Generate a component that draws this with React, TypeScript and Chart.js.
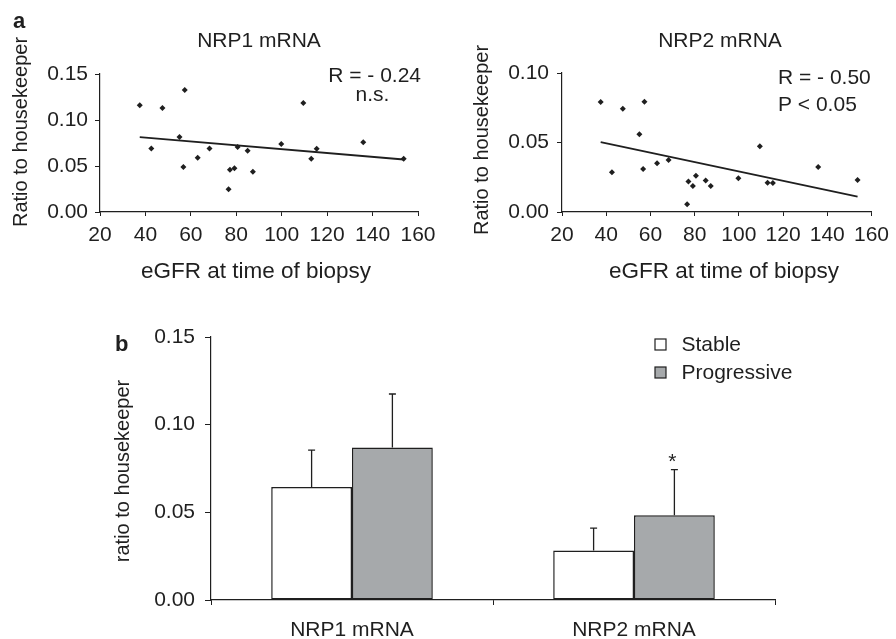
import React, { useEffect, useRef } from 'react';
import { Chart, registerables } from 'chart.js';

Chart.register(...registerables);

const FONT = '"Liberation Sans", Arial, Helvetica, sans-serif';
const INK = '#1f1f1f';
const GREY = '#a6a9ab';

// ---- Panel a data (eGFR vs ratio to housekeeper) ----
const egfr = [37.5, 42.6, 47.5, 55, 57.3, 56.7, 63, 68.2, 76.6, 77.2, 79.2, 80.6, 85, 87.3, 99.8, 109.5, 113, 115.4, 135.9, 153.7];
const nrp1Ratio = [0.116, 0.069, 0.113, 0.0815, 0.1326, 0.049, 0.059, 0.069, 0.0246, 0.046, 0.0475, 0.0707, 0.0667, 0.0438, 0.0739, 0.1185, 0.058, 0.0688, 0.0757, 0.058];
const nrp2Ratio = [0.0791, 0.0286, 0.0743, 0.056, 0.0793, 0.031, 0.0351, 0.0375, 0.0055, 0.0219, 0.0187, 0.026, 0.0226, 0.0187, 0.0243, 0.0473, 0.0211, 0.0209, 0.0324, 0.0231];
const egfrAxis = { min: 20, max: 160, step: 20 };
const nrp1Axis = { min: 0, max: 0.15, step: 0.05 };
const nrp2Axis = { min: 0, max: 0.1, step: 0.05 };

// ---- Panel b data ----
const barCategories = ['NRP1 mRNA', 'NRP2 mRNA'];
const seriesNames = ['Stable', 'Progressive'];
const stableMean = [0.0644, 0.0282];
const stableSD = [0.0211, 0.0128];
const progressiveMean = [0.087, 0.0484];
const progressiveSD = [0.0305, 0.026];
const progressiveSig = ['', '*'];
const barAxis = { min: 0, max: 0.15, step: 0.05 };

type Label = {
  text: string;
  x: number;
  y: number;
  align?: CanvasTextAlign;
  baseline?: CanvasTextBaseline;
  size?: number;
  bold?: boolean;
  rotate?: boolean;
};

function textPlugin(labels: Label[]) {
  return {
    id: 'panelText',
    afterDraw(chart: any) {
      const ctx = chart.ctx as CanvasRenderingContext2D;
      labels.forEach((l) => {
        ctx.save();
        ctx.fillStyle = INK;
        ctx.font = `${l.bold ? 'bold ' : ''}${l.size ?? 21}px ${FONT}`;
        ctx.textAlign = l.align ?? 'left';
        ctx.textBaseline = l.baseline ?? 'alphabetic';
        ctx.translate(l.x, l.y);
        if (l.rotate) ctx.rotate(-Math.PI / 2);
        ctx.fillText(l.text, 0, 0);
        ctx.restore();
      });
    },
  };
}

function leastSquares(xs: number[], ys: number[]) {
  const n = xs.length;
  const mx = xs.reduce((a, b) => a + b, 0) / n;
  const my = ys.reduce((a, b) => a + b, 0) / n;
  let sxy = 0;
  let sxx = 0;
  for (let i = 0; i < n; i++) {
    sxy += (xs[i] - mx) * (ys[i] - my);
    sxx += (xs[i] - mx) * (xs[i] - mx);
  }
  const slope = sxy / sxx;
  const icpt = my - slope * mx;
  const x0 = Math.min(...xs);
  const x1 = Math.max(...xs);
  return [
    { x: x0, y: icpt + slope * x0 },
    { x: x1, y: icpt + slope * x1 },
  ];
}

const tickFont = { family: FONT, size: 21 };

function scatterConfig(
  ys: number[],
  yAxis: { min: number; max: number; step: number },
  yWidth: number,
  pad: { left: number; right: number; top: number; bottom: number },
  xHeight: number,
  yTickPad: number,
  labels: Label[]
): any {
  return {
    type: 'scatter',
    data: {
      datasets: [
        {
          type: 'scatter',
          data: egfr.map((x, i) => ({ x, y: ys[i] })),
          pointStyle: 'rectRot',
          pointRadius: 3,
          backgroundColor: INK,
          borderColor: INK,
          borderWidth: 0,
        },
        {
          type: 'line',
          data: leastSquares(egfr, ys),
          borderColor: INK,
          borderWidth: 1.8,
          pointRadius: 0,
          showLine: true,
          fill: false,
        },
      ],
    },
    options: {
      responsive: false,
      animation: false,
      events: [],
      layout: { padding: pad },
      plugins: { legend: { display: false }, tooltip: { enabled: false } },
      scales: {
        x: {
          type: 'linear',
          min: egfrAxis.min,
          max: egfrAxis.max,
          ticks: { stepSize: egfrAxis.step, padding: 7, color: INK, font: tickFont, maxRotation: 0 },
          grid: { drawOnChartArea: false, drawTicks: true, tickLength: 4, color: INK, lineWidth: 1 },
          border: { color: INK, width: 1.2 },
          afterFit: (s: any) => {
            s.height = xHeight;
          },
        },
        y: {
          type: 'linear',
          min: yAxis.min,
          max: yAxis.max,
          ticks: {
            stepSize: yAxis.step,
            padding: yTickPad,
            color: INK,
            font: tickFont,
            callback: (v: any) => Number(v).toFixed(2),
          },
          grid: { drawOnChartArea: false, drawTicks: true, tickLength: 5, color: INK, lineWidth: 1 },
          border: { color: INK, width: 1.2 },
          afterFit: (s: any) => {
            s.width = yWidth;
          },
        },
      },
    },
    plugins: [textPlugin(labels)],
  };
}

const errorBarPlugin = {
  id: 'errorBars',
  afterDatasetsDraw(chart: any) {
    const ctx = chart.ctx as CanvasRenderingContext2D;
    const yScale = chart.scales.y;
    const sds = [stableSD, progressiveSD];
    const sigs = [[] as string[], progressiveSig];
    chart.data.datasets.forEach((ds: any, di: number) => {
      const meta = chart.getDatasetMeta(di);
      meta.data.forEach((el: any, j: number) => {
        const mean = ds.data[j];
        const top = yScale.getPixelForValue(mean + sds[di][j]);
        const base = yScale.getPixelForValue(mean);
        ctx.save();
        ctx.strokeStyle = INK;
        ctx.lineWidth = 1.3;
        ctx.beginPath();
        ctx.moveTo(el.x, base);
        ctx.lineTo(el.x, top);
        ctx.moveTo(el.x - 3.5, top);
        ctx.lineTo(el.x + 3.5, top);
        ctx.stroke();
        const sig = sigs[di][j];
        if (sig) {
          ctx.fillStyle = INK;
          ctx.font = `21px ${FONT}`;
          ctx.textAlign = 'center';
          ctx.textBaseline = 'alphabetic';
          ctx.fillText(sig, el.x - 2, top - 2);
        }
        ctx.restore();
      });
    });
  },
};

const barLegendPlugin = {
  id: 'barLegend',
  afterDraw(chart: any) {
    const ctx = chart.ctx as CanvasRenderingContext2D;
    chart.data.datasets.forEach((ds: any, i: number) => {
      const cy = 44.5 + i * 28;
      ctx.save();
      ctx.fillStyle = ds.backgroundColor;
      ctx.fillRect(655, cy - 5.5, 11, 11);
      ctx.strokeStyle = INK;
      ctx.lineWidth = 1.2;
      ctx.strokeRect(655, cy - 5.5, 11, 11);
      ctx.fillStyle = INK;
      ctx.font = `21px ${FONT}`;
      ctx.textAlign = 'left';
      ctx.textBaseline = 'middle';
      ctx.fillText(ds.label, 681.5, cy + 0.5);
      ctx.restore();
    });
  },
};

function barConfig(): any {
  return {
    type: 'bar',
    data: {
      labels: barCategories,
      datasets: [
        {
          label: seriesNames[0],
          data: stableMean,
          backgroundColor: '#ffffff',
          borderColor: INK,
          borderWidth: 1.5,
          borderSkipped: false,
          categoryPercentage: 0.573,
          barPercentage: 1,
        },
        {
          label: seriesNames[1],
          data: progressiveMean,
          backgroundColor: GREY,
          borderColor: INK,
          borderWidth: 1.5,
          borderSkipped: false,
          categoryPercentage: 0.573,
          barPercentage: 1,
        },
      ],
    },
    options: {
      responsive: false,
      animation: false,
      events: [],
      layout: { padding: { left: 0, right: 121, top: 37, bottom: 0 } },
      plugins: { legend: { display: false }, tooltip: { enabled: false } },
      scales: {
        x: {
          type: 'category',
          ticks: { padding: 13, color: INK, font: tickFont, maxRotation: 0 },
          grid: { offset: true, drawOnChartArea: false, drawTicks: true, tickLength: 5, color: INK, lineWidth: 1 },
          border: { color: INK, width: 1.2 },
          afterFit: (s: any) => {
            s.height = 39;
          },
        },
        y: {
          type: 'linear',
          min: barAxis.min,
          max: barAxis.max,
          ticks: {
            stepSize: barAxis.step,
            padding: 10,
            color: INK,
            font: tickFont,
            callback: (v: any) => Number(v).toFixed(2),
          },
          grid: { drawOnChartArea: false, drawTicks: true, tickLength: 6, color: INK, lineWidth: 1 },
          border: { color: INK, width: 1.2 },
          afterFit: (s: any) => {
            s.width = 211;
          },
        },
      },
    },
    plugins: [
      errorBarPlugin,
      barLegendPlugin,
      textPlugin([
        { text: 'b', x: 115, y: 51, bold: true, size: 22 },
        { text: 'ratio to housekeeper', x: 123, y: 171, align: 'center', baseline: 'middle', rotate: true, size: 20 },
      ]),
    ],
  };
}

function ChartCanvas({ make, left, top, width, height }: { make: () => any; left: number; top: number; width: number; height: number }) {
  const ref = useRef<HTMLCanvasElement | null>(null);
  useEffect(() => {
    if (!ref.current) return;
    const chart = new Chart(ref.current, make());
    return () => chart.destroy();
  }, []);
  return (
    <canvas
      ref={ref}
      width={width}
      height={height}
      style={{ position: 'absolute', left, top, width, height }}
    />
  );
}

export default function App() {
  return (
    <div style={{ position: 'absolute', left: 0, top: 0, width: 896, height: 639, background: '#fff', overflow: 'hidden' }}>
      <ChartCanvas
        left={0}
        top={0}
        width={448}
        height={300}
        make={() =>
          scatterConfig(nrp1Ratio, nrp1Axis, 100, { left: 0, right: 30, top: 74, bottom: 0 }, 88, 7, [
            { text: 'a', x: 13, y: 28, bold: true, size: 22 },
            { text: 'NRP1 mRNA', x: 259, y: 47, align: 'center' },
            { text: 'R = - 0.24', x: 421, y: 81.5, align: 'right' },
            { text: 'n.s.', x: 372.5, y: 101, align: 'center' },
            { text: 'Ratio to housekeeper', x: 21, y: 132, align: 'center', baseline: 'middle', rotate: true, size: 20 },
            { text: 'eGFR at time of biopsy', x: 256, y: 278, align: 'center', size: 22.5 },
          ])
        }
      />
      <ChartCanvas
        left={448}
        top={0}
        width={448}
        height={300}
        make={() =>
          scatterConfig(nrp2Ratio, nrp2Axis, 114, { left: 0, right: 18, top: 73, bottom: 0 }, 88, 8, [
            { text: 'NRP2 mRNA', x: 272, y: 47, align: 'center' },
            { text: 'R = - 0.50', x: 330, y: 83.5, align: 'left' },
            { text: 'P < 0.05', x: 330, y: 111, align: 'left' },
            { text: 'Ratio to housekeeper', x: 34.5, y: 140, align: 'center', baseline: 'middle', rotate: true, size: 20 },
            { text: 'eGFR at time of biopsy', x: 276, y: 278, align: 'center', size: 22.5 },
          ])
        }
      />
      <ChartCanvas left={0} top={300} width={896} height={339} make={barConfig} />
    </div>
  );
}
